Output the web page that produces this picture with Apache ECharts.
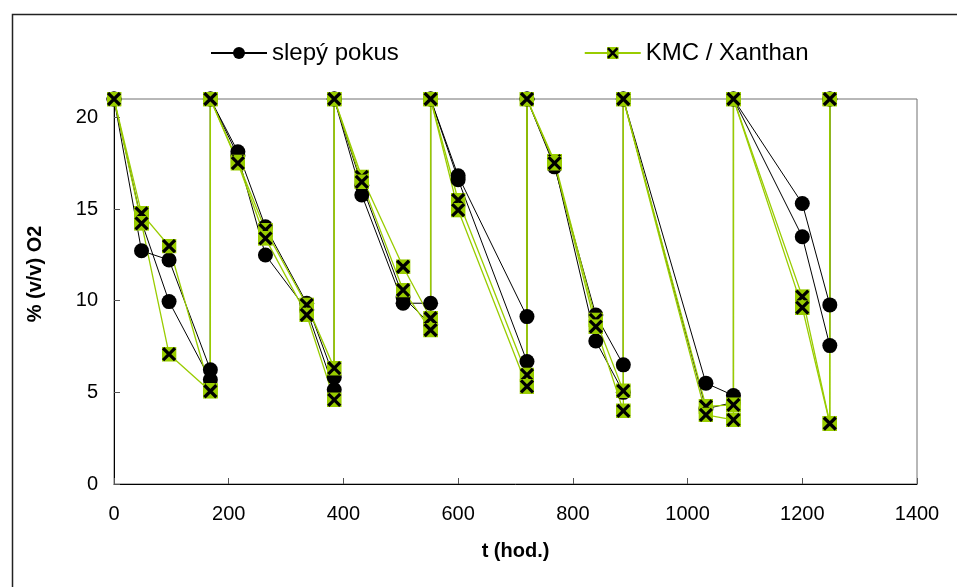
<!DOCTYPE html>
<html>
<head>
<meta charset="utf-8">
<script src="https://cdn.jsdelivr.net/npm/echarts@6/dist/echarts.min.js"></script>
<style>
  html, body { margin: 0; padding: 0; background: #fff; }
  #chart { width: 957px; height: 587px; }
</style>
</head>
<body>
<div id="chart"></div>
<script>
// Sampling times (h); each refill to 21 % repeats the time once
const hours = [0, 48, 96, 168, 168, 216, 264, 336, 384, 384, 432, 504, 552, 552, 600, 720, 720,
               768, 840, 888, 888, 1032, 1080, 1080, 1200, 1248, 1248];

// O2 content, % (v/v) – blank test, two replicates
const blankA = [21, 12.72, 12.22, 6.23, 21, 18.12, 14.03, 9.86, 5.81, 21, 15.76, 9.86, 9.86, 21, 16.81, 9.13, 21,
                17.3, 9.22, 6.5, 21, 5.5, 4.83, 21, 15.3, 9.77, 21];
const blankB = [21, 14.3, 9.95, 5.69, 21, 17.9, 12.49, 9.5, 5.14, 21, 16.3, 10.2, 8.7, 21, 16.6, 6.68, 21,
                17.45, 7.8, 5.0, 21, 4.1, 4.45, 21, 13.49, 7.55, 21];

// O2 content, % (v/v) – KMC / Xanthan, two replicates
const kmcA = [21, 14.76, 12.98, 5.1, 21, 17.57, 13.85, 9.77, 6.32, 21, 16.75, 11.85, 9.04, 21, 15.49, 5.95, 21,
              17.61, 8.95, 5.08, 21, 4.23, 4.32, 21, 10.22, 3.32, 21];
const kmcB = [21, 14.22, 7.08, 5.06, 21, 17.5, 13.4, 9.22, 4.59, 21, 16.48, 10.58, 8.4, 21, 14.94, 5.32, 21,
              17.5, 8.58, 3.99, 21, 3.77, 3.5, 21, 9.62, 3.3, 21];

const xTicks = { min: 0, max: 1400, step: 200 };
const yTicks = { min: 0, max: 21, step: 5 };

const NAME_BLANK = 'slepý pokus';
const NAME_KMC = 'KMC / Xanthan';
const GREEN = '#99cc00';
const FONT = '"Liberation Sans", Arial, sans-serif';

// green square with a black cross
const crossSvg = "<svg xmlns='http://www.w3.org/2000/svg' width='30' height='30' viewBox='0 0 30 30'>" +
  "<rect x='0' y='0' width='30' height='30' fill='" + GREEN + "'/>" +
  "<path d='M3 3L27 27M27 3L3 27' stroke='#000' stroke-width='6.5'/></svg>";
const crossSymbol = 'image://data:image/svg+xml;charset=utf-8,' + encodeURIComponent(crossSvg);

const pairs = vals => hours.map((t, i) => [t, vals[i]]);

function blankSeries(vals) {
  return {
    name: NAME_BLANK, type: 'line', data: pairs(vals), clip: false,
    symbol: 'circle', symbolSize: 15,
    itemStyle: { color: '#000' },
    lineStyle: { color: '#000', width: 1 },
    emphasis: { disabled: true }, animation: false
  };
}
function kmcSeries(vals) {
  return {
    name: NAME_KMC, type: 'line', data: pairs(vals), clip: false,
    symbol: crossSymbol, symbolSize: 15,
    itemStyle: { color: GREEN },
    lineStyle: { color: GREEN, width: 1.3 },
    emphasis: { disabled: true }, animation: false
  };
}

const chart = echarts.init(document.getElementById('chart'), null, { renderer: 'canvas' });
chart.setOption({
  backgroundColor: '#fff',
  animation: false,
  textStyle: { fontFamily: FONT },
  grid: {
    left: 114, right: 40, top: 99, bottom: 103,
    show: true, borderColor: '#707070', borderWidth: 1, backgroundColor: '#fff'
  },
  legend: {
    data: [NAME_BLANK, NAME_KMC],
    left: 205, top: 36,
    itemWidth: 56, itemHeight: 15, itemGap: 185,
    textStyle: { fontSize: 24, color: '#000', fontFamily: FONT }
  },
  xAxis: {
    type: 'value', min: xTicks.min, max: xTicks.max, interval: xTicks.step,
    name: 't (hod.)', nameLocation: 'middle', nameGap: 57,
    nameTextStyle: { fontSize: 20, fontWeight: 'bold', color: '#000', fontFamily: FONT },
    axisLine: { show: true, lineStyle: { color: '#000', width: 1 } },
    axisTick: { show: true, inside: true, length: 6, lineStyle: { color: '#555' } },
    axisLabel: { fontSize: 20, color: '#000', margin: 20, fontFamily: FONT, formatter: v => String(v) },
    splitLine: { show: false }
  },
  yAxis: {
    type: 'value', min: yTicks.min, max: yTicks.max, interval: yTicks.step,
    axisLine: { show: true, lineStyle: { color: '#000', width: 1 } },
    axisTick: { show: true, inside: true, length: 6, lineStyle: { color: '#555' } },
    axisLabel: {
      fontSize: 20, color: '#000', margin: 16, fontFamily: FONT,
      formatter: v => (v > 20 ? '' : String(v))
    },
    splitLine: { show: false }
  },
  graphic: [
    {
      type: 'rect', left: 10, top: 12, silent: true,
      shape: { width: 960, height: 600 },
      style: { fill: 'none', stroke: '#222', lineWidth: 1.5 }
    },
    {
      type: 'text', x: 35, y: 274, rotation: Math.PI / 2, silent: true,
      style: {
        text: '% (v/v) O2', fontSize: 20, fontWeight: 'bold', fill: '#000',
        fontFamily: FONT, align: 'center', verticalAlign: 'middle'
      }
    }
  ],
  series: [
    blankSeries(blankA),
    blankSeries(blankB),
    kmcSeries(kmcA),
    kmcSeries(kmcB)
  ]
});
</script>
</body>
</html>
